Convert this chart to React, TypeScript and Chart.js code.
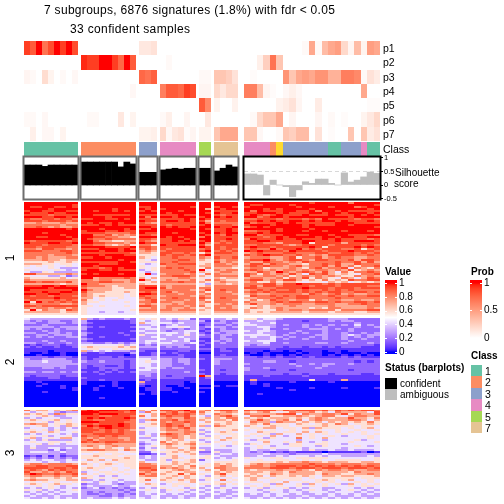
import React, { useEffect, useRef } from "react";
import { Chart, registerables } from "chart.js";

Chart.register(...registerables);

// ---------- data ----------
const titleLine1 = "7 subgroups, 6876 signatures (1.8%) with fdr < 0.05";
const titleLine2 = "33 confident samples";
const groupSizes = [9, 9, 3, 6, 2, 4, 21];
const probLabels = ["p1", "p2", "p3", "p4", "p5", "p6", "p7"];

const p1 = [.9,.8,1,.7,.85,1,.9,1,.85, 0,0,0,0,0,0,0,0,0, .12,.12,.15, 0,0,0,0,0,0, 0,0, 0,0,0,0, 0,0,0,0,0,0,0,0,0,.03,.45,.03,.35,.45,.5,.2,.05,.35,.06,.5,.45];
const p2 = [0,0,0,0,0,0,0,0,0, .95,.9,.9,1,1,.9,.75,1,.8, 0,0,0, 0,.03,0,0,0,0, 0,0, 0,0,0,0, 0,0,.08,.25,.7,.3,0,0,0,0,0,0,0,0,0,0,0,0,0,0,0];
const p3 = [.05,.03,0,.18,.06,0,.03,0,.04, 0,0,0,0,0,0,0,0,0, .75,.7,.78, 0,0,0,0,0,0, .03,.03, .3,.3,.25,.15, 0,.02,0,0,0,0,.55,.3,.45,.5,.45,.55,.55,.4,.4,.65,.65,.6,.03,.15,.1];
const p4 = [0,0,0,0,0,0,0,0,0, 0,0,0,0,0,0,0,0,.04, 0,0,0, .65,.8,.8,.75,.9,.85, .05,.05, .2,.12,.2,.2, .65,.65,.35,.05,.02,0,.04,.08,.04,0,0,0,0,0,0,0,0,0,.45,0,0];
const p5 = [0,0,0,0,0,0,0,0,0, 0,0,0,0,0,0,0,0,0, 0,0,0, 0,0,0,0,0,0, .8,.6, .06,0,0,.07, 0,0,0,0,0,.07,.1,.15,.05,0,0,.1,0,0,0,0,0,0,0,.02,.02];
const p6 = [.03,.03,0,.04,0,0,0,0,0, 0,.03,.03,0,0,0,.12,0,.06, 0,0,0, .03,.08,0,0,.05,0, 0,.12, 0,0,0,0, 0,.03,.2,.3,.3,.45,0,.05,0,0,0,.05,0,.03,0,.02,0,0,.06,.12,.2];
const p7 = [0,.08,0,.04,.04,0,.06,0,0, 0,0,0,0,0,0,0,0,0, .06,.06,.08, .2,.04,.12,.15,.02,.05, .06,.06, .3,.45,.45,.45, .3,.3,.04,0,0,.03,.3,.25,.35,.35,0,.15,0,.02,0,0,.3,0,.3,.1,.15];

const classOfColumn = [
  1,1,1,1,1,1,1,1,1, 2,2,2,2,2,2,2,2,2, 3,3,3, 4,4,4,4,4,4, 5,5, 7,7,7,7,
  4,4,4,4,2,6,3,3,3,3,3,3,3,1,1,3,3,3,4,1,1,
];
const classLegend = [1, 2, 3, 4, 5, 7];
const classColors: Record<number, string> = { 1: "#66C2A5", 2: "#FC8D62", 3: "#8DA0CB", 4: "#E78AC3", 5: "#A6D854", 6: "#FFD92F", 7: "#E5C494" };

const silhouette = [
  .74,.74,.74,.69,.74,.74,.74,.74,.74,
  .85,.85,.85,.85,.85,.85,.67,.85,.78,
  .47,.47,.47,
  .56,.59,.62,.59,.62,.62,
  .62,.62,
  .52,.62,.74,.67,
  .41,.41,.37,-.37,.18,0,-.06,-.43,-.18,.12,.06,.22,.22,.06,0,.45,.11,.18,.3,.48,.43,
];
const silhouetteTicks = [-0.5, 0, 0.5, 1];
const valueTicks = [0, 0.2, 0.4, 0.6, 0.8, 1];
const probTicks = [0, 0.5, 1];

// each row: one level digit per sample, grouped by class block
const digitLevels = [0, 0.07, 0.17, 0.3, 0.44, 0.58, 0.72, 0.84, 0.93, 1];
const heatRows1 = [
"999999999 999999999 999 999999 99 9999 999999999989999979999",
"999999998 999999999 999 999999 99 9999 988999989999999999998",
"988998898 999999999 889 999998 99 8998 899999998999989997899",
"999989999 999998999 989 899999 96 9899 999898999989999999989",
"899889988 998998989 898 999899 99 8888 979888998897998988888",
"988898899 999999999 999 989999 98 9889 889998988899899899989",
"888878888 998888889 888 888988 99 8788 898789888988898889898",
"999889989 999989999 979 998999 89 9898 997899899999999989999",
"877887887 889988989 887 888898 98 8888 778887888787988887887",
"888788878 999999999 988 899898 86 8788 889898899898998988898",
"667666766 989889899 876 888888 97 7777 978889898888889998888",
"777777677 888989888 888 878888 89 8887 899989999898889989999",
"778767667 999999999 998 989889 99 9889 789899999899999999998",
"999999989 999899989 889 999998 98 8898 999998999989999999999",
"999999999 899988988 999 999999 99 8898 778898999899899899989",
"999899999 888877778 988 998999 89 9899 889899999999999999999",
"999999899 997786767 887 999999 98 8798 997888998899989988887",
"998899989 998877665 999 989899 79 8888 888789899998998998899",
"999999998 987787777 887 889989 99 8898 798889889888989888878",
"878888878 997665566 876 889898 89 8788 889988888998889889998",
"988899889 998877767 988 888888 97 7878 888776888958888688888",
"888788887 887765675 775 988999 86 8888 778888767888878888787",
"887888877 999988889 887 888888 98 8788 898878888898588889898",
"776887767 888999898 787 878888 78 8787 787797889787888778578",
"888777887 999899899 676 788888 89 7878 989888798888788898887",
"777777787 888888887 665 887787 57 8887 678777887778877887878",
"777767776 999899988 555 878878 89 7777 878988778767688887787",
"776766677 889989999 654 778777 76 8778 677766785778678776677",
"666766566 999999899 543 777887 65 7677 788976788768877786887",
"555565565 888888998 555 778777 55 8676 766877676877778778686",
"666554554 999888999 434 877888 56 7767 688687766577878668777",
"545454454 998999999 544 677777 66 7776 787877678677868675778",
"444454333 888789899 545 787877 57 6665 677566676578677847657",
"544445434 899889888 345 777787 94 7677 787676776767767685676",
"433543333 999999999 434 777778 65 6776 668769767876864757787",
"886666676 898999899 593 677767 47 7666 875767686487865654778",
"544433423 999999999 544 778887 65 7777 866776756767676557676",
"655555645 996777787 646 666776 54 6566 677667576857654764687",
"766666666 776776667 964 676667 57 7655 788676886565756587788",
"887887786 777887767 556 777877 65 6766 675575665455465645656",
"666666566 977666666 655 666666 43 6656 777886889888787888888",
"888998988 877765666 888 767777 56 7777 786887888878887888877",
"999989999 766665566 899 867777 77 7777 887778888988878887888",
"988888889 976665555 888 777776 68 7877 678787787877878787777",
"888988998 866655565 787 786777 75 7767 787878887878788778878",
"998899888 765555545 998 777677 67 7776 676677777687678676677",
"878878887 765655545 877 677776 76 7777 587787878877787787788",
"888889888 664544544 787 778777 87 7877 667778778877778777777",
"787778787 754545444 678 677767 75 7776 575687767757677667667",
"959787878 655444454 778 776677 67 7777 766678788778878778878",
"767777667 644444444 676 667677 65 6767 686676777667776677877",
"887888888 554544454 887 677767 75 7776 556566676666676666677",
"767767767 544444444 667 676676 56 7676 576567666656577666676",
"595766587 544444445 777 776777 65 7777 655557677677775777788",
"666666566 544344344 666 666666 55 6666 656566666566656665566",
"555555555 544444444 555 555555 55 5555 555555555555555555555",
];
const heatRows2 = [
"433333333 632322232 545 343542 22 3343 553443222222233322222",
"323233223 311111112 434 332333 31 2322 334332222122232332222",
"332233323 321111112 644 443433 22 3323 433342222222222223222",
"222322222 211111111 334 234333 12 2232 443332322323232324232",
"333332333 321211112 443 344543 23 3323 334432222322322223223",
"323223233 311111111 344 332323 21 2322 333422322233323232222",
"222323222 211111112 433 323344 12 2333 434432223222322232222",
"332233232 321111211 344 444343 21 3233 334332232322322322323",
"223323332 311111121 533 343353 32 2332 444432322223322343233",
"323232233 211211111 334 333433 22 2322 343343232232322323232",
"222222222 321111112 333 433343 11 2332 333342322322322322322",
"222322322 211111111 344 334342 21 3232 434442222222222232222",
"332232232 332232323 343 443334 12 2322 333422322223322322232",
"121222122 444444534 232 333322 21 2222 323322222222222222221",
"212112112 565555656 333 232332 11 2222 222222122122121222111",
"111111111 455445455 222 222222 22 1211 111121111111111111111",
"111101111 634343332 211 111221 11 1221 111011010111011011111",
"100100100 211211113 112 212111 00 1111 010100001011001000100",
"001000100 111111101 112 111211 11 1211 100101010111010101010",
"222212221 211221211 333 222211 11 2222 221212112121111212111",
"322333322 212222222 443 332332 21 3332 222222222222222222222",
"333433332 322322212 454 332332 11 3222 222332212222222221212",
"333333333 222222212 443 332232 11 3222 322222232232332232222",
"333333322 212211212 443 332222 11 2222 222222223222322222222",
"222332322 211222212 344 323322 11 2222 322322222223222222222",
"222222222 111212111 443 222222 21 2122 322212212222222212222",
"332332323 212121212 333 222232 11 2222 222222222222222222222",
"222222222 111211111 332 222222 21 2122 222222122122212222112",
"212222122 111111111 232 212222 96 1111 111211111211111111111",
"111122111 211111111 222 222211 12 1111 111111111111111111111",
"111111111 111211111 121 111111 11 1111 161111111151111611111",
"001000000 100001000 611 111101 11 0000 010000010000010000000",
"000100000 100001000 211 111100 11 0000 010100000000000000000",
"001000100 000101000 101 100100 00 1011 000100000000000000000",
"000000101 001000100 011 110010 11 0000 000001000010000100001",
"000000001 001000000 011 110000 00 0000 000000010000000000000",
"000100000 000000000 001 001000 10 0000 000000000000000000000",
"000000000 000000000 101 000000 00 0000 001000000000000000000",
"000000000 000000000 000 000000 00 0000 000000000000000000000",
"000000000 000100000 000 000000 00 0000 000000000000000000000",
"000000000 000000000 000 000000 00 0000 000000000000000000000",
"000000000 000000000 000 000000 00 0000 000000000000000000000",
"000000000 000000000 000 000000 00 0000 000000000000000000000",
"000000000 000000000 000 000000 00 0000 000000000000000000000",
];
const heatRows3 = [
"756646567 898999889 647 887897 67 7887 878886878887868787887",
"434543233 999888878 375 678678 75 5676 656754576675647666648",
"656537655 998999888 546 878787 64 7665 766667884766776857668",
"545653344 888778887 746 787786 43 6786 477855667656775467766",
"343444334 898988898 545 676687 56 6577 656566656567656686657",
"565456454 887788887 367 778677 65 6657 568656757467666677646",
"454535454 999888877 345 767787 46 5565 476637665656465656575",
"676645565 887888987 556 787767 55 6565 565755546545657645565",
"545645365 798998987 455 787867 63 7655 654565545555655554554",
"344434343 887898887 344 676786 45 5555 455664554636555454564",
"454535344 888787876 544 677676 34 5456 545454454545445445445",
"565465445 887787877 344 566677 53 5654 446554554646545454544",
"343444343 778888877 343 787676 34 4555 454536446454544544545",
"454534453 877878777 453 677656 43 5445 545464345454454344454",
"563454664 767677667 334 567656 55 5465 444354447454644444454",
"343533334 786777767 443 565645 34 4654 535544443444344445344",
"454455454 878788777 344 756556 43 5445 444644546434544454445",
"445354344 666676666 234 676567 55 4445 354544355445544344444",
"343333333 676567666 345 565556 44 4534 445434455443544445434",
"353344343 556565465 243 566457 33 4444 345454444344444344444",
"333324233 677766576 345 455656 53 3334 343343344353343343334",
"344433433 554555445 224 556565 22 5334 323212121111011111201",
"333333233 445545544 112 355456 33 3443 333433323333433333333",
"121313122 556555455 343 456445 45 4333 334334344434344333343",
"232323232 555455565 343 556545 55 3434 544455445555544444445",
"343443343 465646555 433 535456 24 4445 445445544545445555445",
"444344344 545454555 644 546556 44 5555 455556566766566655665",
"677677776 654565455 776 556565 45 6565 567677777787776777677",
"778877788 454554455 777 665657 55 6765 677678887878787878787",
"888878878 565545445 887 767656 64 7766 777788878887888788878",
"787687877 545445454 778 556765 56 5766 656667667657677676677",
"866767687 344554544 676 565566 45 6565 666566576665666657666",
"798778778 645455454 867 655857 54 6855 565576566665766556676",
"677667667 454343444 677 556565 43 5645 656465565654665665556",
"565556565 654545444 555 565465 45 5454 565545555454555554555",
"676655566 334344344 574 655656 35 4745 564455455445654564454",
"454545445 543543433 544 454546 44 5454 455454644545454445454",
"565456554 233443233 465 345554 55 5645 544536445364545364545",
"445454344 343334334 445 445454 43 4344 454545445454544454554",
"343454343 234232323 343 544435 34 3543 345344534344334443434",
"545343445 333333232 454 354543 43 4434 443454343454343454343",
"343434344 323233323 344 344434 34 3433 444344344344434443434",
"434343443 322323232 343 434343 43 4334 343434434334343434343",
"343334333 333223233 334 333433 33 3343 333434333433343334333",
"433434343 343334343 434 343434 34 3434 434343434343434343434",
];

// ---------- layout (page pixels) ----------
const SIZE = 504;
const groupSpans: [number, number][] = [[24, 78], [81, 136], [139, 157], [160, 196], [199, 211], [214, 238], [244, 380]];
const probSpan: [number, number] = [41, 141];
const classSpan: [number, number] = [142, 156];
const silSpan: [number, number] = [157, 199];
const heatSpans: [number, number][] = [[202, 315], [318, 407], [409.5, 499]];
const FONT = "'Liberation Sans', Arial, sans-serif";
const PAD = 8; // room for tick labels above and below a plot area

const columns = (() => {
  const out: { x: number; w: number }[] = [];
  groupSizes.forEach((n, g) => {
    const [a, b] = groupSpans[g];
    for (let i = 0; i < n; i++) out.push({ x: a + ((b - a) * i) / n, w: (b - a) / n });
  });
  return out;
})();

// ---------- colours: ramps interpolated in Lab ----------
type V3 = [number, number, number];
const toLab = ([r, g, b]: V3): V3 => {
  const f = (c: number) => { c /= 255; return c > 0.04045 ? Math.pow((c + 0.055) / 1.055, 2.4) : c / 12.92; };
  const R = f(r), G = f(g), B = f(b);
  const g3 = (t: number) => (t > 0.008856 ? Math.cbrt(t) : 7.787 * t + 16 / 116);
  const X = g3((0.4124 * R + 0.3576 * G + 0.1805 * B) / 0.95047);
  const Y = g3(0.2126 * R + 0.7152 * G + 0.0722 * B);
  const Z = g3((0.0193 * R + 0.1192 * G + 0.9505 * B) / 1.08883);
  return [116 * Y - 16, 500 * (X - Y), 200 * (Y - Z)];
};
const fromLab = ([L, a, b]: V3): string => {
  const y = (L + 16) / 116, x = a / 500 + y, z = y - b / 200;
  const h = (t: number) => (t * t * t > 0.008856 ? t * t * t : (t - 16 / 116) / 7.787);
  const X = h(x) * 0.95047, Y = h(y), Z = h(z) * 1.08883;
  const e = (c: number) => {
    c = c > 0.0031308 ? 1.055 * Math.pow(c, 1 / 2.4) - 0.055 : 12.92 * c;
    return Math.max(0, Math.min(255, Math.round(c * 255)));
  };
  return `rgb(${e(3.2406 * X - 1.5372 * Y - 0.4986 * Z)},${e(-0.9689 * X + 1.8758 * Y + 0.0415 * Z)},${e(0.0557 * X - 0.204 * Y + 1.057 * Z)})`;
};
const LAB_RED = toLab([255, 0, 0]), LAB_WHITE = toLab([255, 255, 255]), LAB_BLUE = toLab([0, 0, 255]);
const mix = (p: V3, q: V3, t: number): string => {
  const k = Math.max(0, Math.min(1, t));
  return fromLab([p[0] + (q[0] - p[0]) * k, p[1] + (q[1] - p[1]) * k, p[2] + (q[2] - p[2]) * k]);
};
const probColor = (v: number) => mix(LAB_WHITE, LAB_RED, v);
const valueColor = (v: number) => (v < 0.5 ? mix(LAB_BLUE, LAB_WHITE, v * 2) : mix(LAB_WHITE, LAB_RED, (v - 0.5) * 2));
const classColor = (v: number) => classColors[v];

// ---------- datasets ----------
type Cell = { x: number; y: number; w: number; h: number; v: number };
const gridCells = (rows: number[][], span: [number, number]): Cell[] => {
  const h = (span[1] - span[0]) / rows.length;
  const out: Cell[] = [];
  rows.forEach((row, r) => row.slice(0, columns.length).forEach((v, c) => out.push({ x: columns[c].x, w: columns[c].w, y: span[0] + r * h, h, v })));
  return out;
};
const parseRows = (rows: string[]) => rows.map((s) => s.replace(/ /g, "").split("").map((d) => digitLevels[Number(d)]));

const cellsPlugin = {
  id: "cells",
  beforeDatasetsDraw(chart: any) {
    const { ctx, scales } = chart;
    chart.data.datasets.forEach((ds: any) => {
      ds.data.forEach((c: Cell) => {
        const l = Math.round(scales.x.getPixelForValue(c.x));
        const r = Math.round(scales.x.getPixelForValue(c.x + c.w));
        const t = Math.round(scales.y.getPixelForValue(c.y));
        const b = Math.round(scales.y.getPixelForValue(c.y + c.h));
        ctx.fillStyle = ds.cellColor(c.v);
        ctx.fillRect(l, t, r - l, b - t);
      });
    });
  },
};

const mainConfig = () => ({
  type: "scatter",
  data: {
    datasets: [
      { label: "prob", data: gridCells([p1, p2, p3, p4, p5, p6, p7], probSpan), cellColor: probColor, pointRadius: 0 },
      { label: "class", data: gridCells([classOfColumn], classSpan), cellColor: classColor, pointRadius: 0 },
      { label: "heat 1", data: gridCells(parseRows(heatRows1), heatSpans[0]), cellColor: valueColor, pointRadius: 0 },
      { label: "heat 2", data: gridCells(parseRows(heatRows2), heatSpans[1]), cellColor: valueColor, pointRadius: 0 },
      { label: "heat 3", data: gridCells(parseRows(heatRows3), heatSpans[2]), cellColor: valueColor, pointRadius: 0 },
    ],
  },
  options: {
    responsive: false,
    animation: false,
    events: [],
    layout: { padding: 0 },
    plugins: { legend: { display: false }, tooltip: { enabled: false } },
    scales: {
      x: { type: "linear", min: 0, max: SIZE, display: false },
      y: { type: "linear", min: 0, max: SIZE, reverse: true, display: false },
    },
  },
  plugins: [cellsPlugin],
});

const silConfig = (g: number, values: number[]) => {
  const last = g === groupSizes.length - 1;
  const boxPlugin = {
    id: "box",
    afterDatasetsDraw(chart: any) {
      const { ctx, chartArea: a, scales } = chart;
      ctx.save();
      if (last) {
        const y = scales.y.getPixelForValue(0.5);
        ctx.strokeStyle = "#d8d8d8";
        ctx.lineWidth = 1;
        ctx.setLineDash([4, 3]);
        ctx.beginPath();
        ctx.moveTo(a.left, Math.round(y) + 0.5);
        ctx.lineTo(a.right, Math.round(y) + 0.5);
        ctx.stroke();
        ctx.setLineDash([]);
      }
      ctx.strokeStyle = last ? "#000000" : "#6e6e6e";
      ctx.lineWidth = 2;
      ctx.strokeRect(a.left - 0.5, a.top - 0.5, a.right - a.left + 1, a.bottom - a.top + 1);
      ctx.restore();
    },
  };
  return {
    type: "bar",
    data: {
      labels: values.map((_, i) => String(i + 1)),
      datasets: [{
        data: values,
        backgroundColor: last ? "#BEBEBE" : "#000000",
        categoryPercentage: 1,
        barPercentage: 1,
        borderWidth: 0,
      }],
    },
    options: {
      responsive: false,
      animation: false,
      events: [],
      layout: { padding: { left: 2, right: last ? 0 : 2, top: PAD, bottom: PAD } },
      plugins: { legend: { display: false }, tooltip: { enabled: false } },
      scales: {
        x: { display: false },
        y: {
          display: last,
          position: "right",
          min: -14 / 27,
          max: 28 / 27,
          afterFit: (s: any) => { if (last) s.width = SIZE - groupSpans[g][1]; },
          afterBuildTicks: (s: any) => { s.ticks = silhouetteTicks.map((value) => ({ value })); },
          border: { display: false },
          grid: { drawOnChartArea: false, tickLength: 3, color: "#000000" },
          ticks: { font: { family: FONT, size: 7.5 }, color: "#000", padding: 1, autoSkip: false, callback: (v: number) => String(v) },
        },
      },
    },
    plugins: [boxPlugin],
  };
};

const rampConfig = (ticks: number[], color: (v: number) => string, min: number, max: number) => {
  const rampPlugin = {
    id: "ramp",
    beforeDatasetsDraw(chart: any) {
      const { ctx, chartArea: a, scales } = chart;
      const y0 = scales.y.getPixelForValue(0), y1 = scales.y.getPixelForValue(1);
      const grad = ctx.createLinearGradient(0, y0, 0, y1);
      for (let i = 0; i <= 40; i++) grad.addColorStop(i / 40, color(i / 40));
      ctx.fillStyle = grad;
      ctx.fillRect(a.left, a.top, a.right - a.left, a.bottom - a.top);
      ctx.strokeStyle = "#ffffff";
      ctx.lineWidth = 1;
      ticks.forEach((t) => {
        const y = Math.round(scales.y.getPixelForValue(t)) + 0.5;
        ctx.beginPath();
        ctx.moveTo(a.left, y); ctx.lineTo(a.left + 2, y);
        ctx.moveTo(a.right - 2, y); ctx.lineTo(a.right, y);
        ctx.stroke();
      });
    },
  };
  return {
    type: "bar",
    data: { labels: ["ramp"], datasets: [{ data: [null] }] },
    options: {
      responsive: false,
      animation: false,
      events: [],
      layout: { padding: { top: PAD, bottom: PAD } },
      plugins: { legend: { display: false }, tooltip: { enabled: false } },
      scales: {
        x: { display: false },
        y: {
          position: "right",
          min, max,
          afterFit: (s: any) => { s.width = 24; },
          afterBuildTicks: (s: any) => { s.ticks = ticks.map((value) => ({ value })); },
          border: { display: false },
          grid: { display: false, drawTicks: false },
          ticks: { font: { family: FONT, size: 10 }, color: "#000", padding: 2, autoSkip: false, callback: (v: number) => String(v) },
        },
      },
    },
    plugins: [rampPlugin],
  };
};

// ---------- components ----------
function ChartCanvas({ make, left, top, width, height }: any) {
  const ref = useRef<HTMLCanvasElement>(null);
  useEffect(() => {
    const chart = new Chart(ref.current as any, make());
    return () => chart.destroy();
  }, []);
  return <canvas ref={ref} width={width} height={height} style={{ position: "absolute", left, top, width, height, display: "block" }} />;
}

function Label({ x, y, size = 10, bold = false, spacing = 0, rotate = false, children }: any) {
  return (
    <div
      style={{
        position: "absolute", left: x, top: y, fontFamily: FONT, fontSize: size, lineHeight: 1, whiteSpace: "pre",
        fontWeight: bold ? 700 : 400, letterSpacing: spacing, color: "#000",
        transform: rotate ? "translate(-50%,-50%) rotate(-90deg)" : "translateY(-50%)",
      }}
    >
      {children}
    </div>
  );
}

export default function App() {
  let start = 0;
  const silSlices = groupSizes.map((n) => { const s = silhouette.slice(start, start + n); start += n; return s; });
  return (
    <div style={{ position: "absolute", left: 0, top: 0, width: SIZE, height: SIZE, background: "#fff", overflow: "hidden" }}>
      <ChartCanvas make={mainConfig} left={0} top={0} width={SIZE} height={SIZE} />
      {silSlices.map((vals, g) => {
        const [a, b] = groupSpans[g];
        const last = g === groupSizes.length - 1;
        return (
          <ChartCanvas
            key={g}
            make={() => silConfig(g, vals)}
            left={a - 2}
            top={silSpan[0] - PAD}
            width={last ? SIZE - a + 2 : b - a + 4}
            height={silSpan[1] - silSpan[0] + 2 * PAD}
          />
        );
      })}
      <ChartCanvas make={() => rampConfig(valueTicks, valueColor, -2 / 69, 1 + 3 / 69)} left={385} top={280 - PAD} width={36} height={74 + 2 * PAD} />
      <ChartCanvas make={() => rampConfig(probTicks, probColor, -0.02, 1 + 3 / 56)} left={470} top={280 - PAD} width={36} height={59 + 2 * PAD} />

      <Label x={44} y={10} size={12} spacing={0.3}>{titleLine1}</Label>
      <Label x={70} y={29} size={12} spacing={0.35}>{titleLine2}</Label>

      {probLabels.map((p, i) => (
        <Label key={p} x={383} y={probSpan[0] + 7.2 + (i * (probSpan[1] - probSpan[0])) / 7} size={10.5}>{p}</Label>
      ))}
      <Label x={383} y={149} size={10.5}>Class</Label>
      <Label x={395} y={173} size={10}>Silhouette</Label>
      <Label x={394} y={184} size={10}>score</Label>

      <Label x={10} y={258} size={12} rotate>1</Label>
      <Label x={10} y={362} size={12} rotate>2</Label>
      <Label x={10} y={453} size={12} rotate>3</Label>

      <Label x={385} y={272} size={10} bold>Value</Label>
      <Label x={471} y={272} size={10} bold>Prob</Label>
      <Label x={385} y={368} size={10} bold>Status (barplots)</Label>
      <div style={{ position: "absolute", left: 385, top: 378, width: 12, height: 11, background: "#000" }} />
      <div style={{ position: "absolute", left: 385, top: 389, width: 12, height: 11, background: "#BEBEBE" }} />
      <Label x={400} y={383.5} size={10}>confident</Label>
      <Label x={400} y={395} size={10}>ambiguous</Label>

      <Label x={471} y={356} size={10} bold>Class</Label>
      {classLegend.map((c, i) => (
        <React.Fragment key={c}>
          <div style={{ position: "absolute", left: 471, top: 365 + i * 11.4, width: 11, height: 11.4, background: classColors[c] }} />
          <Label x={485} y={371 + i * 11.4} size={10.5}>{String(c)}</Label>
        </React.Fragment>
      ))}
    </div>
  );
}
